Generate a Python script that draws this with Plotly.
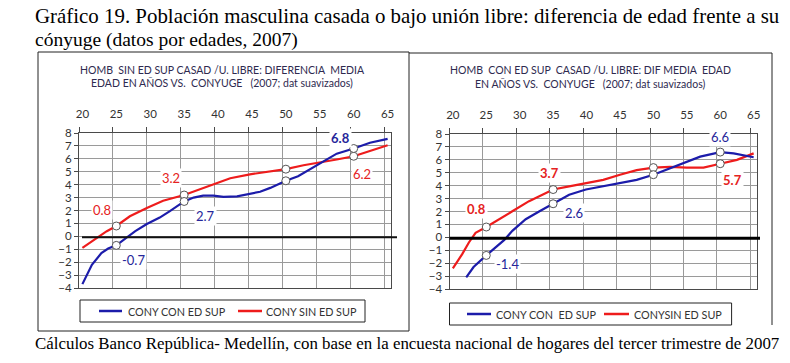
import plotly.graph_objects as go

W, H = 790, 363

# ---------------- data ----------------
AGES_L_CON = [20, 21.4, 22.8, 23.8, 25, 26.5, 27.8, 29.5, 31.4, 32.9, 35, 36.4, 37.8, 39.3, 40.8,
              42.8, 44.7, 46.2, 47.7, 50, 51.8, 53.1, 54.6, 57.5, 60, 62.4, 65]
VAL_L_CON = [-3.7, -2.2, -1.3, -0.95, -0.7, -0.1, 0.4, 0.95, 1.45, 1.95, 2.7, 3.0, 3.15, 3.15, 3.05,
             3.1, 3.3, 3.45, 3.75, 4.3, 4.65, 5.05, 5.5, 6.4, 6.8, 7.25, 7.55]

AGES_L_SIN = [20, 21.1, 22.1, 23.6, 25, 27, 29.5, 31.9, 35, 36.9, 39.3, 41.8, 44.7, 47.2, 50,
              52.6, 55, 57.5, 60, 62.5, 65]
VAL_L_SIN = [-0.9, -0.5, -0.1, 0.4, 0.8, 1.55, 2.2, 2.75, 3.2, 3.55, 4.05, 4.5, 4.8, 5.0, 5.2,
             5.5, 5.7, 5.95, 6.2, 6.6, 7.05]

AGES_R_CON = [22, 23.1, 25, 26.4, 27.7, 28.9, 30.9, 32.9, 35, 37.4, 39.9, 42.5, 45, 47.5, 50,
              52.5, 54.5, 57, 60, 62, 65]
VAL_R_CON = [-3.1, -2.3, -1.4, -0.8, -0.2, 0.5, 1.4, 2.0, 2.6, 3.3, 3.7, 3.95, 4.2, 4.45, 4.85,
             5.35, 5.8, 6.25, 6.6, 6.5, 6.2]

AGES_R_SIN = [20, 21.4, 22.4, 23.4, 25, 26.9, 29.4, 31.4, 33.4, 35, 37.4, 39.9, 42.5, 45, 47.5,
              50, 52.5, 55, 57.5, 60, 62.5, 65]
VAL_R_SIN = [-2.4, -1.3, -0.4, 0.35, 0.8, 1.4, 2.15, 2.8, 3.3, 3.7, 3.95, 4.2, 4.45, 4.85, 5.2,
             5.4, 5.45, 5.4, 5.4, 5.7, 6.0, 6.5]

MARK_AGES = [25, 35, 50, 60]
X_TICKS = [20, 25, 30, 35, 40, 45, 50, 55, 60, 65]
Y_TICKS = list(range(-4, 9))

SERIES_NAMES = ["CONY CON ED SUP", "CONY SIN ED SUP"]
SERIES_NAMES_R = ["CONY CON  ED SUP", "CONYSIN ED SUP"]

# value labels: (text, age, y-position, colour key, bold)
LABELS_L = [("-0.7", 27.5, -1.8, "b", False), ("0.8", 22.9, 2.05, "r", False),
            ("3.2", 33.1, 4.5, "r", False), ("2.7", 38.1, 1.6, "b", False),
            ("6.8", 58.0, 7.6, "b", True), ("6.2", 61.2, 4.85, "r", False)]
LABELS_R = [("-1.4", 28.25, -2.1, "b", False), ("0.8", 23.6, 2.2, "r", True),
            ("3.7", 34.4, 5.0, "r", True), ("2.6", 38.1, 1.9, "b", False),
            ("6.6", 60.0, 7.75, "b", False), ("5.7", 61.9, 4.45, "r", True)]

TITLE_L = ["HOMB  SIN ED SUP CASAD /U. LIBRE: DIFERENCIA  MEDIA",
           "EDAD EN AÑOS VS.  CONYUGE   (2007; dat suavizados)"]
TITLE_R = ["HOMB  CON ED SUP  CASAD /U. LIBRE: DIF MEDIA  EDAD",
           "EN AÑOS VS.  CONYUGE   (2007; dat suavizados)"]

# ---------------- styling ----------------
BLUE = "#1c1caa"
RED = "#ee1c1c"
BLUE_T = "#26269a"
RED_T = "#e52222"
GRID = "#9a9a9a"
AX = "#4a4a4a"
TXT = "#333333"
CHART_FONT = "Lato"
SERIF = "Liberation Serif"


def px(x):
    return x / W


def py(y):
    return 1 - y / H


fig = go.Figure()


def add_series(ages, vals, color, xa, ya):
    fig.add_trace(go.Scatter(x=ages, y=vals, mode="lines", line=dict(color=color, width=2.2),
                             xaxis=xa, yaxis=ya, showlegend=False, hoverinfo="skip"))
    mx = [a for a in ages if a in MARK_AGES]
    my = [v for a, v in zip(ages, vals) if a in MARK_AGES]
    fig.add_trace(go.Scatter(x=mx, y=my, mode="markers",
                             marker=dict(size=8, color="white", line=dict(color="#555555", width=1)),
                             xaxis=xa, yaxis=ya, showlegend=False, hoverinfo="skip"))


add_series(AGES_L_SIN, VAL_L_SIN, RED, "x", "y")
add_series(AGES_L_CON, VAL_L_CON, BLUE, "x", "y")
add_series(AGES_R_SIN, VAL_R_SIN, RED, "x2", "y2")
add_series(AGES_R_CON, VAL_R_CON, BLUE, "x2", "y2")

xcommon = dict(range=[19.5, 65.5], side="top", tickvals=X_TICKS, ticktext=[str(t) for t in X_TICKS],
               showgrid=False, showline=True, linecolor=AX, mirror=True, linewidth=1,
               ticks="", ticklabelstandoff=9, tickfont=dict(family=CHART_FONT, size=11.5, color=TXT),
               minor=dict(tick0=19.5, dtick=5, showgrid=True, gridcolor=GRID, gridwidth=1,
                          ticks="outside", ticklen=5, tickcolor=AX),
               zeroline=False, fixedrange=True, automargin=False)
ycommon = dict(range=[-4, 8], tickvals=Y_TICKS, showgrid=True, gridcolor=GRID, gridwidth=1,
               showline=True, linecolor=AX, mirror=True, linewidth=1, ticks="outside", ticklen=4,
               tickcolor=AX, tickfont=dict(family=CHART_FONT, size=11.5, color=TXT), zeroline=False,
               fixedrange=True, automargin=False)

fig.update_layout(
    width=W, height=H, margin=dict(l=0, r=0, t=0, b=0),
    paper_bgcolor="white", plot_bgcolor="white", showlegend=False,
    xaxis=dict(xcommon, domain=[px(79), px(391)], anchor="y"),
    yaxis=dict(ycommon, domain=[py(288), py(133)], anchor="x"),
    xaxis2=dict(xcommon, domain=[px(449.5), px(757)], anchor="y2"),
    yaxis2=dict(ycommon, domain=[py(289), py(134)], anchor="x2"),
)

shapes = []
ann = []

# panel frames
for x0, y0, x1, y1 in [(38, 52, 409, 52), (38, 52, 38, 331), (38, 331, 409, 331), (409, 52, 409, 331),
                       (409, 53, 772, 53), (772, 53, 772, 325)]:
    shapes.append(dict(type="line", xref="paper", yref="paper", x0=px(x0), y0=py(y0), x1=px(x1), y1=py(y1),
                       line=dict(color="#222222", width=1)))

# zero lines
shapes.append(dict(type="line", xref="paper", yref="y", x0=px(82), x1=px(397), y0=-0.08, y1=-0.08,
                   line=dict(color="#111111", width=2)))
shapes.append(dict(type="line", xref="paper", yref="y2", x0=px(449.5), x1=px(760), y0=-0.08, y1=-0.08,
                   line=dict(color="#000000", width=3)))

# legends (boxes + samples + text)
for (bx0, by0, bx1, by1, l1, t1, l2, t2, names) in [
        (80, 300, 365, 322, (99, 122), 126, (238, 262), 264, SERIES_NAMES),
        (449.5, 303, 731.6, 325, (467, 491), 494, (604, 629), 631.6, SERIES_NAMES_R)]:
    shapes.append(dict(type="rect", xref="paper", yref="paper", x0=px(bx0), x1=px(bx1), y0=py(by0), y1=py(by1),
                       line=dict(color="#222222", width=1), fillcolor="white"))
    yc = (by0 + by1) / 2
    shapes.append(dict(type="line", xref="paper", yref="paper", x0=px(l1[0]), x1=px(l1[1]), y0=py(yc), y1=py(yc),
                       line=dict(color=BLUE, width=2.5)))
    shapes.append(dict(type="line", xref="paper", yref="paper", x0=px(l2[0]), x1=px(l2[1]), y0=py(yc), y1=py(yc),
                       line=dict(color=RED, width=2.5)))
    for tx, name in [(t1, names[0]), (t2, names[1])]:
        ann.append(dict(xref="paper", yref="paper", x=px(tx), y=py(yc), text=name, showarrow=False,
                        xanchor="left", yanchor="middle",
                        font=dict(family=CHART_FONT, size=10.8, color=TXT)))

# panel titles
for cx, lines, ys in [(222, TITLE_L, (70, 83)), (590, TITLE_R, (70, 84))]:
    for line, yy in zip(lines, ys):
        ann.append(dict(xref="paper", yref="paper", x=px(cx), y=py(yy), text=line, showarrow=False,
                        xanchor="center", yanchor="middle",
                        font=dict(family=CHART_FONT, size=10.5, color="#2e2a4f")))

# value labels
for labels, xr, yr in [(LABELS_L, "x", "y"), (LABELS_R, "x2", "y2")]:
    for text, ax_, ay_, ck, bold in labels:
        col = BLUE_T if ck == "b" else RED_T
        t = f"<b>{text}</b>" if bold else text
        ann.append(dict(xref=xr, yref=yr, x=ax_, y=ay_, text=t, showarrow=False, bgcolor="white",
                        borderpad=1, font=dict(family=CHART_FONT, size=13, color=col)))

# main title and caption
ann.append(dict(xref="paper", yref="paper", x=px(33), y=py(16),
                text="Gráfico 19. Población masculina casada o bajo unión libre: diferencia de edad frente a su",
                showarrow=False, xanchor="left", yanchor="middle",
                font=dict(family=SERIF, size=20.9, color="#000000")))
ann.append(dict(xref="paper", yref="paper", x=px(33), y=py(40),
                text="cónyuge (datos por edades, 2007)",
                showarrow=False, xanchor="left", yanchor="middle",
                font=dict(family=SERIF, size=19.5, color="#000000")))
ann.append(dict(xref="paper", yref="paper", x=px(33), y=py(343),
                text="Cálculos Banco República- Medellín, con base en la encuesta nacional de hogares del tercer trimestre de 2007",
                showarrow=False, xanchor="left", yanchor="middle",
                font=dict(family=SERIF, size=16.9, color="#000000")))

fig.update_layout(shapes=shapes, annotations=ann)
fig.write_html("out.html", config={"displayModeBar": False},
               post_script="document.body.style.margin='0';")
